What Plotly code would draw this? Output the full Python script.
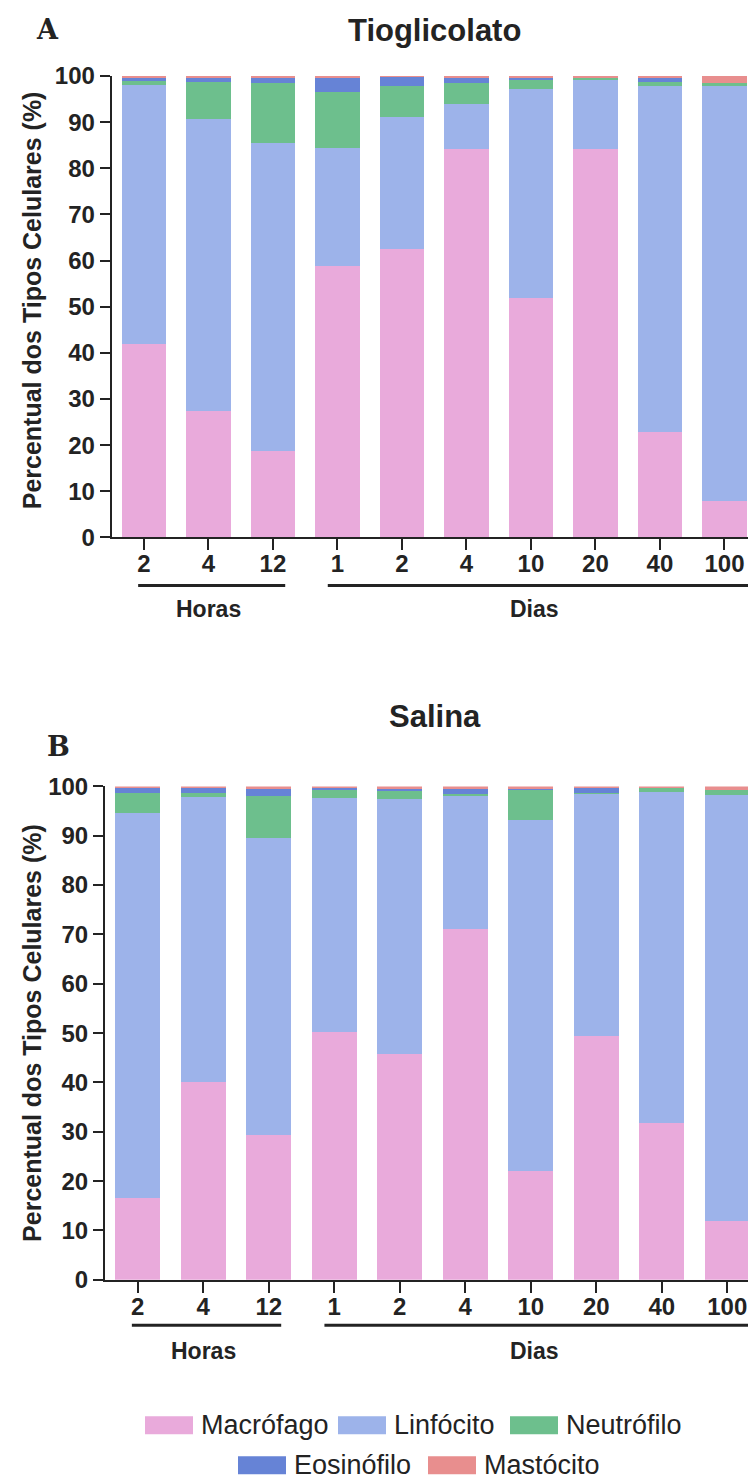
import plotly.graph_objects as go

# ---------------- data ----------------
time_labels = ["2", "4", "12", "1", "2", "4", "10", "20", "40", "100"]
group_names = ["Horas", "Dias"]
cell_types = ["Macrófago", "Linfócito", "Neutrófilo", "Eosinófilo", "Mastócito"]
colors = ["#E9AADB", "#9DB3EA", "#6DBF8D", "#6683D6", "#E88E8E"]

tio_macrofago = [42.0, 27.5, 18.7, 58.9, 62.6, 84.2, 51.8, 84.2, 22.8, 8.0]
tio_linfocito = [56.0, 63.1, 66.7, 25.5, 28.6, 9.7, 45.5, 15.1, 75.0, 89.8]
tio_neutrofilo = [1.0, 8.2, 13.1, 12.2, 6.6, 4.5, 2.0, 0.4, 1.0, 0.8]
tio_eosinofilo = [0.7, 0.9, 1.2, 3.1, 2.0, 1.2, 0.2, 0.0, 0.8, 0.0]
tio_mastocito = [0.3, 0.3, 0.3, 0.3, 0.2, 0.4, 0.5, 0.3, 0.4, 1.4]

sal_macrofago = [16.6, 40.0, 29.4, 50.2, 45.7, 71.1, 22.0, 49.4, 31.8, 12.0]
sal_linfocito = [78.1, 57.8, 60.1, 47.4, 51.7, 27.0, 71.2, 49.0, 67.0, 86.3]
sal_neutrofilo = [4.0, 0.8, 8.6, 1.7, 1.7, 0.3, 6.1, 0.3, 0.9, 1.0]
sal_eosinofilo = [0.9, 1.0, 1.4, 0.4, 0.3, 1.0, 0.1, 0.9, 0.0, 0.0]
sal_mastocito = [0.4, 0.4, 0.5, 0.3, 0.6, 0.6, 0.6, 0.4, 0.3, 0.7]

y_ticks = [0, 10, 20, 30, 40, 50, 60, 70, 80, 90, 100]

# ---------------- figure ----------------
# page placement of the plot div (body margin etc.) and the capture's vertical factor
OFFX, OFFY, SY = 8, 22.4, 0.981
FW, FH = 748, 1488
FONT = "Liberation Sans"
INK = "#232323"


def px(x):
    return (x - OFFX) / FW


def py(y):
    return 1 - (y / SY - OFFY) / FH


xpos = list(range(len(time_labels)))
tio = [tio_macrofago, tio_linfocito, tio_neutrofilo, tio_eosinofilo, tio_mastocito]
sal = [sal_macrofago, sal_linfocito, sal_neutrofilo, sal_eosinofilo, sal_mastocito]

fig = go.Figure()
for name, col, vals in zip(cell_types, colors, tio):
    fig.add_trace(go.Bar(x=xpos, y=vals, name=name, marker=dict(color=col, line=dict(width=0)),
                         xaxis="x", yaxis="y", showlegend=False))
for name, col, vals in zip(cell_types, colors, sal):
    fig.add_trace(go.Bar(x=xpos, y=vals, name=name, marker=dict(color=col, line=dict(width=0)),
                         xaxis="x2", yaxis="y2", showlegend=False))

tickfont = dict(family=FONT, size=24, color=INK, weight="bold")
xcommon = dict(tickmode="array", tickvals=xpos, ticktext=time_labels, ticks="outside",
               ticklen=11, tickwidth=2, tickcolor=INK, showline=True, linecolor=INK,
               linewidth=2, showgrid=False, zeroline=False, tickfont=tickfont, fixedrange=True,
               ticklabelstandoff=-7)
ycommon = dict(range=[0, 100], tickmode="array", tickvals=y_ticks, ticks="outside",
               ticklen=10, tickwidth=2, tickcolor=INK, showline=True, linecolor=INK,
               linewidth=2, showgrid=False, zeroline=False, tickfont=tickfont, fixedrange=True)

right_px = OFFX + FW  # right edge of the page area used by the figure
fig.update_layout(
    width=FW, height=FH,
    margin=dict(l=0, r=0, t=0, b=0),
    paper_bgcolor="white", plot_bgcolor="white",
    barmode="stack", bargap=0.31,
    xaxis=dict(domain=[px(111.7), 1.0], range=[-0.5, -0.5 + (right_px - 111.7) / 64.5],
               anchor="y", **xcommon),
    yaxis=dict(domain=[py(537), py(76)], anchor="x", **ycommon),
    xaxis2=dict(domain=[px(105), 1.0], range=[-0.5, -0.5 + (right_px - 105) / 65.5],
                anchor="y2", **xcommon),
    yaxis2=dict(domain=[py(1278.7), py(785.7)], anchor="x2", **ycommon),
)

shapes = []
annotations = []

# group underlines and group labels
for xa, ya, yline, ylab in [("x", "y domain", -0.104, -0.154), ("x2", "y2 domain", -0.092, -0.145)]:
    for (x0, x1, xc), gname in zip([(-0.09, 2.19, 1.0), (2.85, 9.4, 6.05)], group_names):
        shapes.append(dict(type="line", xref=xa, yref=ya, x0=x0, x1=x1, y0=yline, y1=yline,
                           line=dict(color=INK, width=3)))
        annotations.append(dict(xref=xa, yref=ya, x=xc, y=ylab, text=gname, showarrow=False,
                                xanchor="center", yanchor="middle",
                                font=dict(family=FONT, size=23, color=INK, weight="bold")))

# panel letters and titles
for letter, lx, ly in [("A", 47, 29), ("B", 58, 746)]:
    annotations.append(dict(xref="paper", yref="paper", x=px(lx), y=py(ly), text=letter,
                            showarrow=False, xanchor="center", yanchor="middle",
                            font=dict(family="DejaVu Serif", size=27, color=INK, weight="bold")))
for title, ty in [("Tioglicolato", 30), ("Salina", 716)]:
    annotations.append(dict(xref="paper", yref="paper", x=px(435), y=py(ty), text=title,
                            showarrow=False, xanchor="center", yanchor="middle",
                            font=dict(family=FONT, size=31, color=INK, weight="bold")))

# y-axis titles
for yc in [300, 1032]:
    annotations.append(dict(xref="paper", yref="paper", x=px(32), y=py(yc),
                            text="Percentual dos Tipos Celulares (%)", textangle=-90,
                            showarrow=False, xanchor="center", yanchor="middle",
                            font=dict(family=FONT, size=25, color=INK, weight="bold")))

# legend (3 + 2 layout)
legend_layout = [(0, 145, 1424), (1, 338, 1424), (2, 510, 1424), (3, 238, 1464), (4, 428, 1464)]
for idx, sx, sy in legend_layout:
    shapes.append(dict(type="rect", xref="paper", yref="paper", x0=px(sx), x1=px(sx + 48),
                       y0=py(sy + 9), y1=py(sy - 9), fillcolor=colors[idx], line=dict(width=0)))
    annotations.append(dict(xref="paper", yref="paper", x=px(sx + 54), y=py(sy),
                            text=cell_types[idx], showarrow=False, xanchor="left", yanchor="middle",
                            font=dict(family=FONT, size=27, color=INK)))

fig.update_layout(shapes=shapes, annotations=annotations)
fig.write_html("out.html")
